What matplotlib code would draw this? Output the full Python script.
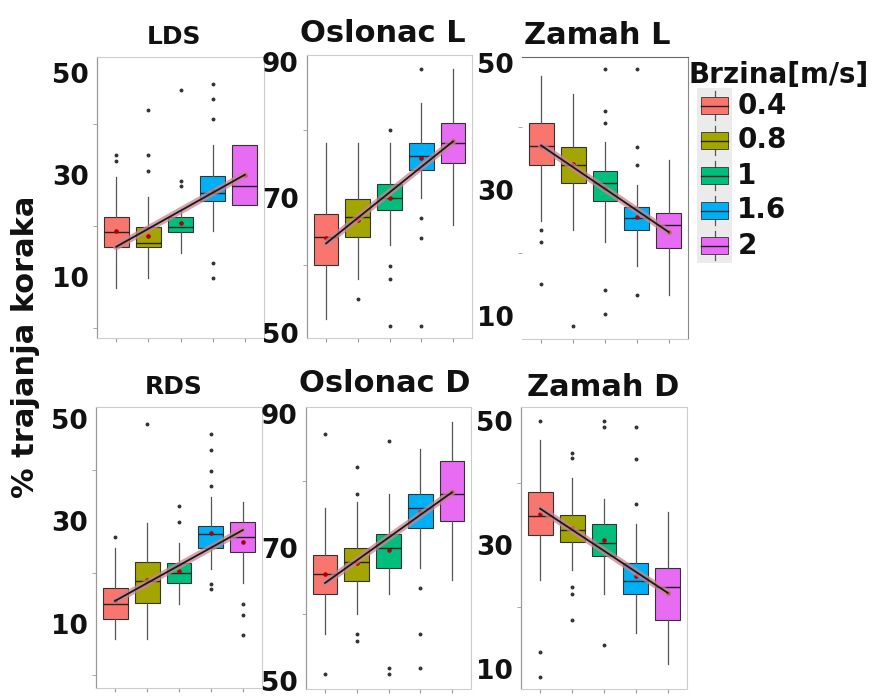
import matplotlib
matplotlib.use("Agg")
import matplotlib.pyplot as plt
from matplotlib.patches import Rectangle

plt.rcParams["font.family"] = ["DejaVu Sans"]
plt.rcParams["font.weight"] = "bold"

SPEEDS = ["0.4", "0.8", "1", "1.6", "2"]
COLORS = ["#F8766D", "#A3A500", "#00BF7D", "#00B0F6", "#E76BF3"]

# [donji brk, Q1, medijana, Q3, gornji brk] po brzini
LDS_BOX = [[7.9, 15.9, 18.8, 21.7, 29.6],
           [9.8, 15.9, 16.7, 19.8, 25.7],
           [14.7, 18.8, 19.8, 21.7, 23.3],
           [19.0, 24.8, 26.5, 29.7, 35.8],
           [24.0, 24.0, 27.8, 35.8, 35.8]]
LDS_MEAN = [18.9, 18.0, 20.6, 26.9, 30.0]
LDS_OUT = [[33.9, 32.8], [42.8, 33.9, 30.8], [46.7, 28.7, 27.8],
           [47.9, 44.9, 40.9, 12.7, 9.8], []]
LDS_TREND = [15.9, 30.0]

OSL_L_BOX = [[52.0, 60.0, 64.1, 67.5, 78.0],
             [58.0, 64.1, 67.1, 69.8, 78.0],
             [63.0, 68.1, 70.0, 72.0, 78.0],
             [70.0, 74.1, 76.1, 78.0, 84.0],
             [66.0, 75.1, 78.0, 81.0, 89.0]]
OSL_L_MEAN = [64.0, 66.7, 69.9, 75.8, 78.3]
OSL_L_OUT = [[], [55.0], [80.0, 59.9, 58.0, 51.0], [89.0, 66.9, 64.0, 51.0], []]
OSL_L_TREND = [63.2, 78.3]

ZAM_L_BOX = [[25.0, 33.9, 36.9, 40.5, 48.0],
             [23.7, 31.1, 33.9, 36.7, 45.2],
             [21.7, 28.3, 31.1, 33.0, 37.6],
             [17.9, 23.6, 25.5, 27.3, 30.8],
             [13.3, 20.8, 24.4, 26.4, 34.7]]
ZAM_L_MEAN = [37.0, 34.1, 30.3, 25.7, 23.3]
ZAM_L_OUT = [[23.7, 21.7, 15.1], [8.5], [49.1, 42.4, 40.6, 14.2, 10.4],
             [49.1, 36.8, 33.9, 13.3], []]
ZAM_L_TREND = [37.0, 23.3]

RDS_BOX = [[7.0, 10.9, 13.9, 17.0, 24.9],
           [7.0, 14.0, 18.4, 22.0, 29.7],
           [13.9, 17.9, 20.0, 21.9, 25.8],
           [20.8, 24.9, 27.5, 29.1, 34.8],
           [17.9, 24.0, 27.0, 29.9, 33.8]]
RDS_MEAN = [14.5, 18.6, 20.4, 27.7, 25.9]
RDS_OUT = [[27.0], [49.0], [33.0, 29.9],
           [47.0, 44.0, 39.9, 36.9, 17.7, 16.8], [13.9, 11.8, 7.9]]
RDS_TREND = [14.5, 28.3]

OSL_D_BOX = [[57.1, 63.0, 66.0, 68.9, 75.9],
             [60.0, 65.0, 67.9, 69.9, 76.9],
             [63.0, 67.0, 69.9, 72.0, 78.0],
             [66.9, 73.0, 75.9, 78.0, 84.8],
             [65.1, 74.0, 78.0, 83.0, 88.9]]
OSL_D_MEAN = [66.0, 67.7, 69.6, 75.3, 78.3]
OSL_D_OUT = [[87.0, 51.0], [82.1, 78.0, 57.0, 56.0], [86.0, 52.0, 51.0],
             [64.0, 57.0, 52.0], []]
OSL_D_TREND = [64.7, 78.3]

ZAM_D_BOX = [[24.4, 31.6, 34.7, 38.6, 46.9],
             [26.0, 30.5, 32.4, 34.9, 40.8],
             [22.1, 28.3, 30.4, 33.5, 37.5],
             [15.9, 22.1, 24.2, 27.2, 33.5],
             [10.9, 18.0, 23.2, 26.3, 35.4]]
ZAM_D_MEAN = [35.1, 32.7, 30.9, 25.0, 22.3]
ZAM_D_OUT = [[50.0, 12.8, 8.8], [44.8, 44.0, 23.2, 22.1, 18.0],
             [50.0, 49.1, 13.9], [49.0, 43.9, 36.6], []]
ZAM_D_TREND = [35.9, 22.3]

W, H = 888, 698

# naslov, podaci, ylim, oznake, pravougaonik u pikselima (x0, y0, x1, y1), naslov (x, y, velicina)
PANELS = [
    ("LDS", LDS_BOX, LDS_MEAN, LDS_OUT, LDS_TREND, (-2.0, 53.1), [10, 30, 50],
     (97, 57, 264, 338), (174, 37, 18)),
    ("Oslonac L", OSL_L_BOX, OSL_L_MEAN, OSL_L_OUT, OSL_L_TREND, (49.2, 91.1), [50, 70, 90],
     (307, 55, 472, 338), (383, 33, 22)),
    ("Zamah L", ZAM_L_BOX, ZAM_L_MEAN, ZAM_L_OUT, ZAM_L_TREND, (6.4, 51.0), [10, 30, 50],
     (522, 57, 688, 339), (597, 35, 22)),
    ("RDS", RDS_BOX, RDS_MEAN, RDS_OUT, RDS_TREND, (-2.5, 52.3), [10, 30, 50],
     (96, 407, 262, 688), (174, 387, 18)),
    ("Oslonac D", OSL_D_BOX, OSL_D_MEAN, OSL_D_OUT, OSL_D_TREND, (48.8, 91.1), [50, 70, 90],
     (306, 407, 471, 689), (385, 383, 22)),
    ("Zamah D", ZAM_D_BOX, ZAM_D_MEAN, ZAM_D_OUT, ZAM_D_TREND, (6.8, 52.3), [10, 30, 50],
     (521, 407, 687, 689), (603, 387, 22)),
]


def draw_panel(fig, title, box, mean, out, trend, ylim, ticks, rect, ttl):
    x0, y0, x1, y1 = rect
    ax = fig.add_axes([x0 / W, 1 - y1 / H, (x1 - x0) / W, (y1 - y0) / H])
    stats = []
    for b, m, o in zip(box, mean, out):
        stats.append(dict(whislo=b[0], q1=b[1], med=b[2], q3=b[3], whishi=b[4],
                          mean=m, fliers=o))
    pos = list(range(1, len(stats) + 1))
    bp = ax.bxp(stats, positions=pos, widths=0.78, patch_artist=True,
                showmeans=True, showcaps=False,
                medianprops=dict(color="#222222", lw=1.0),
                whiskerprops=dict(color="#555555", lw=0.9),
                boxprops=dict(edgecolor="#333333", lw=0.8),
                meanprops=dict(marker="o", markersize=2.3, markerfacecolor="#B00000",
                               markeredgecolor="#B00000"),
                flierprops=dict(marker="o", markersize=1.8, markerfacecolor="#333333",
                                markeredgecolor="#333333"))
    for patch, c in zip(bp["boxes"], COLORS):
        patch.set_facecolor(c)

    # linearni trend preko brzina
    ax.plot([pos[0], pos[-1]], trend, color="#C98592", lw=5, alpha=0.75,
            solid_capstyle="round", zorder=5)
    ax.plot([pos[0], pos[-1]], trend, color="#1a1a1a", lw=1.3, zorder=6)

    ax.set_xticks(pos)
    ax.set_xticklabels([])
    ax.set_yticks(ticks)
    minor = [t + 10 for t in ticks[:-1]] + [ticks[0] - 10]
    ax.set_yticks([t for t in minor if ylim[0] <= t <= ylim[1]], minor=True)
    ax.set_xlim(0.4, len(pos) + 0.6)
    ax.set_ylim(*ylim)
    ax.tick_params(axis="y", which="major", labelsize=19, length=0, pad=6,
                   labelcolor="#111111")
    ax.tick_params(axis="y", which="minor", length=3, color="#999999")
    ax.tick_params(axis="x", length=3, color="#999999")
    for t in ax.get_yticklabels():
        t.set_fontweight("bold")
    for side in ["top", "right", "bottom"]:
        ax.spines[side].set_color("#cccccc")
        ax.spines[side].set_linewidth(0.8)
    ax.spines["left"].set_color("#999999")
    ax.spines["left"].set_linewidth(0.9)
    if title == "Zamah L":
        ax.spines["left"].set_visible(False)
        ax.spines["top"].set_color("#666666")
        ax.spines["right"].set_color("#888888")
    tx, ty, ts = ttl
    fig.text(tx / W, 1 - ty / H, title, ha="center", va="center", fontsize=ts,
             fontweight="bold", color="#111111")
    return ax


def draw_legend(fig):
    lx0, ly0, lx1, ly1 = 697, 88, 732, 263
    lax = fig.add_axes([lx0 / W, 1 - ly1 / H, (lx1 - lx0) / W, (ly1 - ly0) / H])
    lax.set_facecolor("#EBEBEB")
    lax.set_xlim(0, 1)
    lax.set_ylim(len(SPEEDS), 0)
    for s in lax.spines.values():
        s.set_visible(False)
    lax.set_xticks([])
    lax.set_yticks([])
    for i, (lab, c) in enumerate(zip(SPEEDS, COLORS)):
        yc = i + 0.5
        lax.plot([0.5, 0.5], [yc - 0.42, yc + 0.42], color="#555555", lw=0.9)
        lax.add_patch(Rectangle((0.12, yc - 0.24), 0.76, 0.48, facecolor=c,
                                edgecolor="#333333", lw=0.6, zorder=3))
        lax.plot([0.12, 0.88], [yc, yc], color="#222222", lw=1.0, zorder=4)
        lax.text(1.15, yc, lab, ha="left", va="center", fontsize=20,
                 fontweight="bold", color="#111111", clip_on=False)
    fig.text(688 / W, 1 - 75 / H, "Brzina[m/s]", ha="left", va="center",
             fontsize=20, fontweight="bold", color="#111111")


def main():
    fig = plt.figure(figsize=(W / 100, H / 100), dpi=100)
    for p in PANELS:
        draw_panel(fig, *p)
    draw_legend(fig)
    fig.text(26 / W, 1 - 347 / H, "% trajanja koraka", rotation=90, ha="center",
             va="center", fontsize=22, fontweight="bold", color="#111111")
    fig.savefig("out.png", dpi=100)


if __name__ == "__main__":
    main()
